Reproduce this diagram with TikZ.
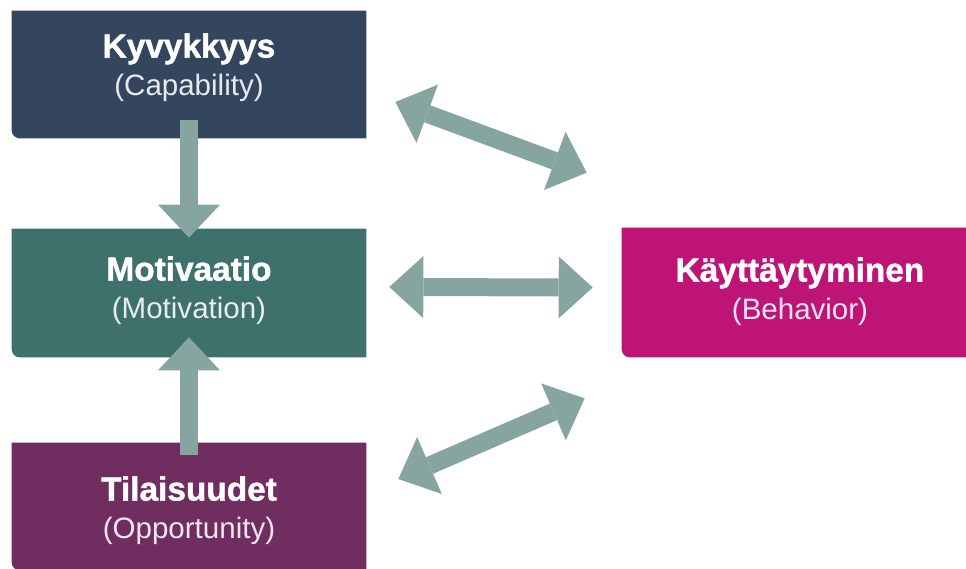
\documentclass[tikz,border=0pt]{standalone}
\usepackage{fontspec}
\setmainfont{Liberation Sans}[BoldFeatures={FakeBold=1.2}]
\usetikzlibrary{arrows.meta}

\definecolor{capcol}{HTML}{34465E}
\definecolor{motcol}{HTML}{3E706C}
\definecolor{oppcol}{HTML}{702E60}
\definecolor{behcol}{HTML}{BE1478}
\definecolor{flechacol}{HTML}{87A5A0}

\tikzset{
  caja/.style={minimum width=7.08cm, minimum height=2.54cm, inner sep=0pt},
  etiq/.style={align=center, text=white, font=\fontsize{19}{21.6}\selectfont\bfseries},
  flecha/.style={flechacol, line width=0.36cm, {Triangle[length=0.68cm, width=1.24cm, line width=0pt]}-{Triangle[length=0.68cm, width=1.24cm, line width=0pt]}},
  flechauna/.style={flechacol, line width=0.37cm, -{Triangle[length=0.66cm, width=1.24cm, line width=0pt]}}
}

% caja con la esquina inferior izquierda redondeada
\newcommand{\rellenacaja}[2]{%
  \fill[#2] (#1.north east) -- (#1.north west) -- ([yshift=0.16cm]#1.south west)
    arc[start angle=180, end angle=270, radius=0.16cm] -- (#1.south east) -- cycle;}
% titulo y subtitulo
\newcommand{\titulo}[3]{#2\\{\fontsize{16.8}{21.6}\selectfont\mdseries\color{white!88!#1}#3}}

\begin{document}
\begin{tikzpicture}[x=0.02cm, y=-0.02cm]
        \useasboundingbox (0,0) rectangle (966,568);
        \clip (0,0) rectangle (966,568);

        % Paso 1: Define las cajas
        \node[caja] (cap) at (189,74.5) {};
        \node[caja, minimum height=2.56cm] (mot) at (189,293) {};
        \node[caja] (opp) at (189,506.5) {};
        \node[caja, minimum width=7.12cm, minimum height=2.58cm] (beh) at (800,292.5) {};

        % Paso 2: Rellena las cajas
        \rellenacaja{cap}{capcol}
        \rellenacaja{mot}{motcol}
        \rellenacaja{opp}{oppcol}
        \rellenacaja{beh}{behcol}

        % Paso 3: Flechas verticales
        \coordinate (capin) at ([yshift=0.36cm]cap.south);
        \coordinate (motin) at ([yshift=-0.18cm]mot.north);
        \coordinate (oppin) at ([yshift=-0.24cm]opp.north);
        \coordinate (motout) at ([yshift=0.4cm]mot.south);
        \draw[flechauna] (capin) -- (motin);
        \draw[flechauna] (oppin) -- (motout);

        % Paso 4: Flechas dobles hacia el comportamiento
        \draw[flecha] ([xshift=0.58cm, yshift=-0.55cm]cap.east)
            -- ([xshift=-0.7cm, yshift=1.1cm]beh.north west);
        \draw[flecha] ([xshift=0.46cm, yshift=0.12cm]mot.east)
            -- ([xshift=-0.58cm, yshift=0.1cm]beh.west);
        \draw[flecha] ([xshift=0.64cm, yshift=0.55cm]opp.east)
            -- ([xshift=-0.74cm, yshift=-0.82cm]beh.south west);

        % Paso 5: Textos
        \node[etiq] (capt) at ([yshift=0.14cm]cap) {\titulo{capcol}{Kyvykkyys}{(Capability)}};
        \node[etiq] (mott) at ([yshift=0.05cm]mot) {\titulo{motcol}{Motivaatio}{(Motivation)}};
        \node[etiq] (oppt) at ([yshift=-0.08cm]opp) {\titulo{oppcol}{Tilaisuudet}{(Opportunity)}};
        \node[etiq] (beht) at ([yshift=0.02cm]beh) {\titulo{behcol}{Käyttäytyminen}{(Behavior)}};
    \end{tikzpicture}
\end{document}
